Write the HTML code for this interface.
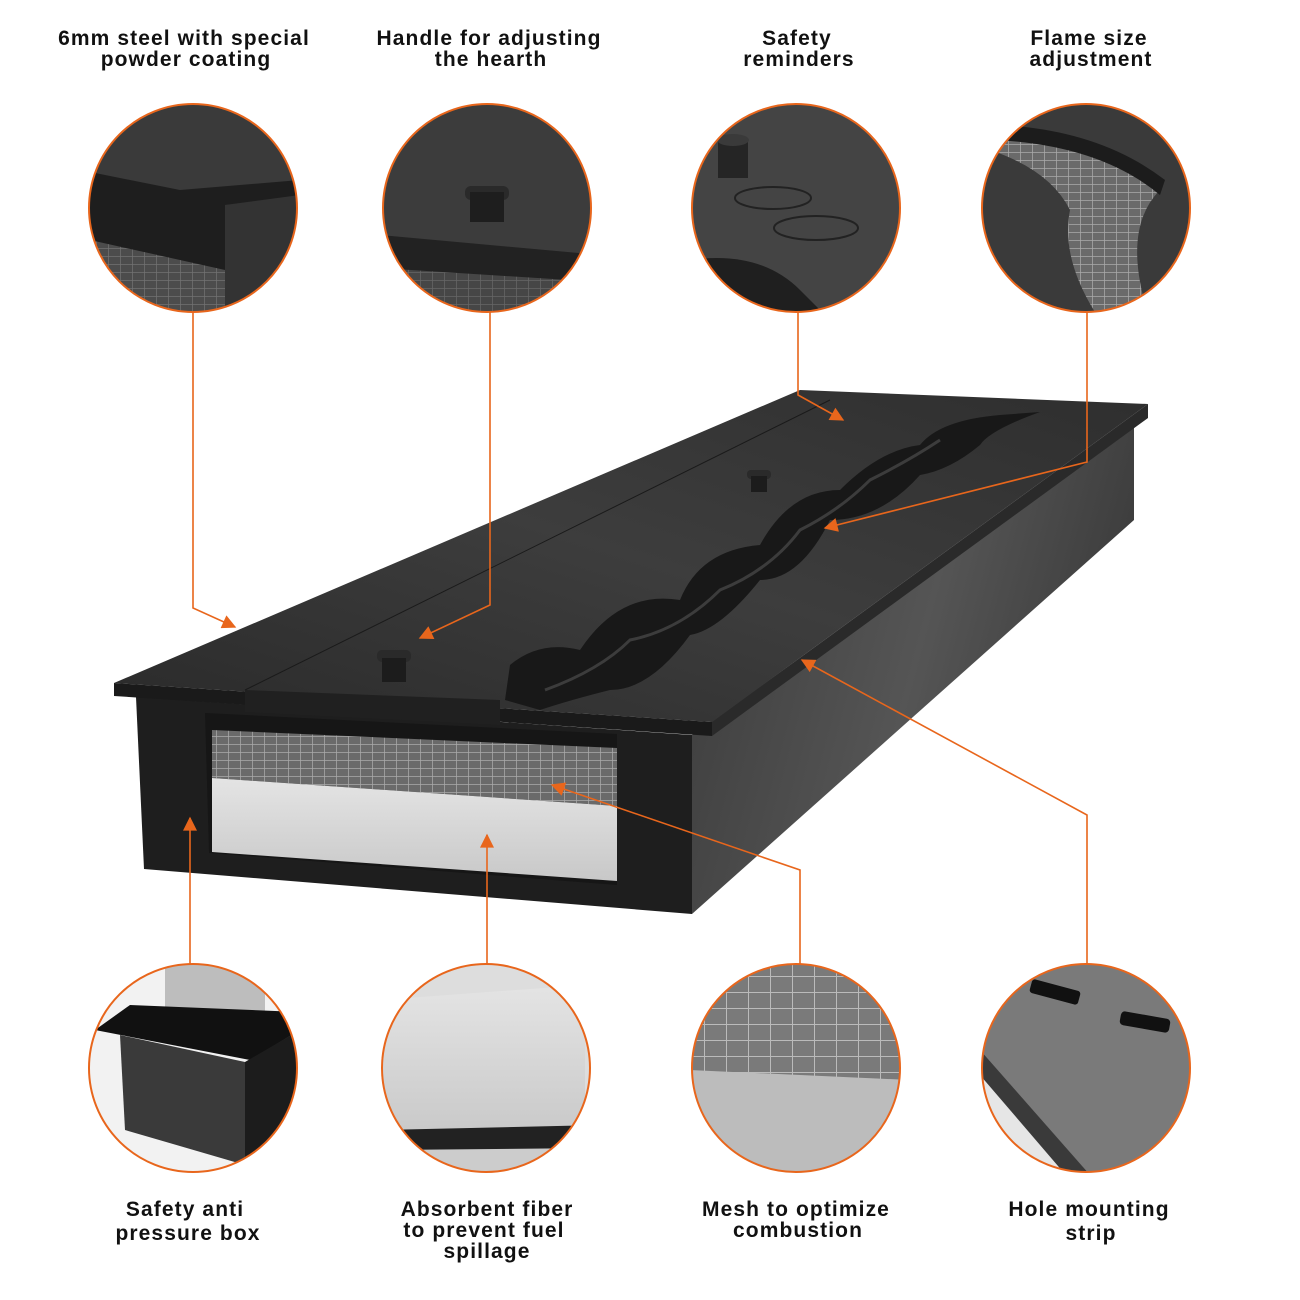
<!DOCTYPE html>
<html><head><meta charset="utf-8"><style>
html,body{margin:0;padding:0;background:#fff}
svg{display:block}
text{font-family:"Liberation Sans",sans-serif;font-weight:bold;font-size:21px;letter-spacing:1.1px;fill:#111;text-anchor:middle}
</style></head><body>
<svg width="1300" height="1300" viewBox="0 0 1300 1300" xmlns="http://www.w3.org/2000/svg">
<defs>
<linearGradient id="side" x1="0" y1="0" x2="1" y2="0.3"><stop offset="0" stop-color="#3a3a3a"/><stop offset="0.6" stop-color="#555"/><stop offset="1" stop-color="#3c3c3c"/></linearGradient>
<linearGradient id="top" x1="0" y1="1" x2="1" y2="0"><stop offset="0" stop-color="#2a2a2a"/><stop offset="0.5" stop-color="#3d3d3d"/><stop offset="1" stop-color="#2e2e2e"/></linearGradient>
<linearGradient id="fib" x1="0" y1="0" x2="0" y2="1"><stop offset="0" stop-color="#e4e4e4"/><stop offset="1" stop-color="#c8c8c8"/></linearGradient>
<pattern id="mesh" width="12" height="8" patternUnits="userSpaceOnUse"><rect width="12" height="8" fill="#6a6a6a"/><path d="M0 0H12M0 0V8" stroke="#aaa" stroke-width="1.5"/></pattern>
<pattern id="mesh2" width="22" height="16" patternUnits="userSpaceOnUse"><rect width="22" height="16" fill="#7a7a7a"/><path d="M0 0H22M0 0V16" stroke="#bbb" stroke-width="2"/></pattern>
<clipPath id="c1"><circle cx="193" cy="208" r="104"/></clipPath>
<clipPath id="c2"><circle cx="487" cy="208" r="104"/></clipPath>
<clipPath id="c3"><circle cx="796" cy="208" r="104"/></clipPath>
<clipPath id="c4"><circle cx="1086" cy="208" r="104"/></clipPath>
<clipPath id="b1"><circle cx="193" cy="1068" r="104"/></clipPath>
<clipPath id="b2"><circle cx="486" cy="1068" r="104"/></clipPath>
<clipPath id="b3"><circle cx="796" cy="1068" r="104"/></clipPath>
<clipPath id="b4"><circle cx="1086" cy="1068" r="104"/></clipPath>
<marker id="ar" viewBox="0 0 10 10" refX="9" refY="5" markerWidth="10" markerHeight="10" markerUnits="userSpaceOnUse" orient="auto-start-reverse"><path d="M0 0L10 5L0 10z" fill="#e8661c"/></marker>
<marker id="ar2" viewBox="0 0 10 10" refX="9" refY="5" markerWidth="16" markerHeight="14" markerUnits="userSpaceOnUse" orient="auto"><path d="M0 0L10 5L0 10z" fill="#e8661c"/></marker>
</defs>

<text x="184" y="45">6mm steel with special</text><text x="186" y="66">powder coating</text>
<text x="489" y="45">Handle for adjusting</text><text x="491" y="66">the hearth</text>
<text x="797" y="45">Safety</text><text x="799" y="66">reminders</text>
<text x="1089" y="45">Flame size</text><text x="1091" y="66">adjustment</text>
<text x="185" y="1216">Safety anti</text><text x="188" y="1240">pressure box</text>
<text x="487" y="1216">Absorbent fiber</text><text x="484" y="1237">to prevent fuel</text><text x="487" y="1258">spillage</text>
<text x="796" y="1216">Mesh to optimize</text><text x="798" y="1237">combustion</text>
<text x="1089" y="1216">Hole mounting</text><text x="1091" y="1240">strip</text>

<g clip-path="url(#c1)"><rect x="80" y="100" width="230" height="220" fill="#3a3a3a"/><path d="M80 170L180 190L300 180V200L225 205V320H80Z" fill="#1e1e1e"/><path d="M90 240L225 270V320H90Z" fill="url(#mesh)" opacity="0.6"/><path d="M225 205L300 195V320H225Z" fill="#333"/></g>
<g clip-path="url(#c2)"><rect x="380" y="100" width="220" height="220" fill="#3c3c3c"/><path d="M380 235L600 255V320H380Z" fill="#222"/><path d="M380 268L600 282V320H380Z" fill="url(#mesh)" opacity="0.5"/><rect x="465" y="186" width="44" height="14" rx="6" fill="#2a2a2a"/><rect x="470" y="192" width="34" height="30" fill="#1e1e1e"/></g>
<g clip-path="url(#c3)"><rect x="690" y="100" width="220" height="220" fill="#444"/><path d="M690 260Q760 250 800 290L830 320H690Z" fill="#1f1f1f"/><ellipse cx="773" cy="198" rx="38" ry="11" fill="none" stroke="#222" stroke-width="2"/><ellipse cx="816" cy="228" rx="42" ry="12" fill="none" stroke="#222" stroke-width="2"/><rect x="718" y="140" width="30" height="38" fill="#252525"/><ellipse cx="733" cy="140" rx="16" ry="6" fill="#3a3a3a"/></g>
<g clip-path="url(#c4)"><rect x="980" y="100" width="220" height="220" fill="#3a3a3a"/><path d="M1000 130Q1100 140 1160 190Q1120 230 1150 320H1100Q1060 260 1070 210Q1050 170 990 150Z" fill="url(#mesh)"/><path d="M1000 125Q1100 130 1165 180L1160 195Q1100 145 995 140Z" fill="#1c1c1c"/></g>
<g fill="none" stroke="#e8661c" stroke-width="2"><circle cx="193" cy="208" r="104"/><circle cx="487" cy="208" r="104"/><circle cx="796" cy="208" r="104"/><circle cx="1086" cy="208" r="104"/></g>

<g clip-path="url(#b1)"><rect x="80" y="960" width="230" height="220" fill="#f2f2f2"/><rect x="165" y="960" width="100" height="55" fill="#bdbdbd"/><path d="M95 1030L130 1005L300 1012V1030L250 1060Z" fill="#111"/><path d="M120 1035L245 1062V1165L125 1130Z" fill="#3a3a3a"/><path d="M245 1062L300 1030V1160L245 1165Z" fill="#1c1c1c"/></g>
<g clip-path="url(#b2)"><rect x="380" y="960" width="220" height="220" fill="#ddd"/><path d="M380 1000L585 985V1130L380 1140Z" fill="url(#fib)"/><path d="M380 1130L600 1125V1180H380Z" fill="#222"/><path d="M380 1150L600 1148V1180H380Z" fill="#ccc"/></g>
<g clip-path="url(#b3)"><rect x="690" y="960" width="220" height="220" fill="url(#mesh2)"/><path d="M690 1070L910 1080V1180H690Z" fill="#bcbcbc"/></g>
<g clip-path="url(#b4)"><rect x="980" y="960" width="220" height="220" fill="#7a7a7a"/><path d="M980 1060L1080 1180H980Z" fill="#e6e6e6"/><path d="M980 1050L1090 1175L1070 1180L980 1075Z" fill="#3a3a3a"/><rect x="1030" y="985" width="50" height="14" rx="3" fill="#111" transform="rotate(15 1055 992)"/><rect x="1120" y="1015" width="50" height="14" rx="4" fill="#111" transform="rotate(10 1145 1022)"/></g>
<g fill="none" stroke="#e8661c" stroke-width="2"><circle cx="193" cy="1068" r="104"/><circle cx="486" cy="1068" r="104"/><circle cx="796" cy="1068" r="104"/><circle cx="1086" cy="1068" r="104"/></g>

<path d="M692 735L1134 420V520L692 914Z" fill="url(#side)"/>
<path d="M136 697L692 735V914L144 869Z" fill="#1e1e1e"/>
<path d="M205 713L617 734V885L209 853Z" fill="#161616"/>
<path d="M212 730L617 748V806L212 778Z" fill="url(#mesh)"/>
<path d="M212 778L617 806V881L212 852Z" fill="url(#fib)"/>
<path d="M114 683L800 390L1148 404L712 722Z" fill="url(#top)"/>
<path d="M114 683L712 722V736L114 696Z" fill="#1a1a1a"/>
<path d="M1148 404V418L712 736V722Z" fill="#2a2a2a"/>
<path d="M245 690L830 400" stroke="#1a1a1a" stroke-width="1"/>
<path d="M510 665Q540 640 580 650Q620 590 680 600Q700 550 760 545Q790 490 840 490Q880 450 920 445Q940 420 1000 415L1040 412Q990 430 980 445Q950 470 920 475Q880 520 830 520Q800 580 760 580Q720 630 690 635Q650 690 610 690Q570 700 540 710L505 700Z" fill="#181818"/>
<path d="M545 690Q600 670 630 640Q680 630 720 590Q770 570 800 530Q840 510 870 480Q910 460 940 440" stroke="#555" stroke-width="3" fill="none" opacity="0.6"/>
<rect x="377" y="650" width="34" height="12" rx="5" fill="#2a2a2a"/><rect x="382" y="658" width="24" height="24" fill="#1c1c1c"/>
<rect x="747" y="470" width="24" height="9" rx="4" fill="#2a2a2a"/><rect x="751" y="476" width="16" height="16" fill="#1c1c1c"/>
<path d="M245 690L500 700V725L245 712Z" fill="#202020"/>

<g fill="none" stroke="#e8661c" stroke-width="1.6">
<path d="M193 312V608L235 627" marker-end="url(#ar2)"/>
<path d="M490 312V605L420 638" marker-end="url(#ar2)"/>
<path d="M798 312V395L843 420" marker-end="url(#ar2)"/>
<path d="M1087 312V462L825 528" marker-end="url(#ar2)"/>
<path d="M190 965V818" marker-end="url(#ar2)"/>
<path d="M487 965V835" marker-end="url(#ar2)"/>
<path d="M800 965V870L552 785" marker-end="url(#ar2)"/>
<path d="M1087 965V815L802 660" marker-end="url(#ar2)"/>
</g>
</svg>
</body></html>
